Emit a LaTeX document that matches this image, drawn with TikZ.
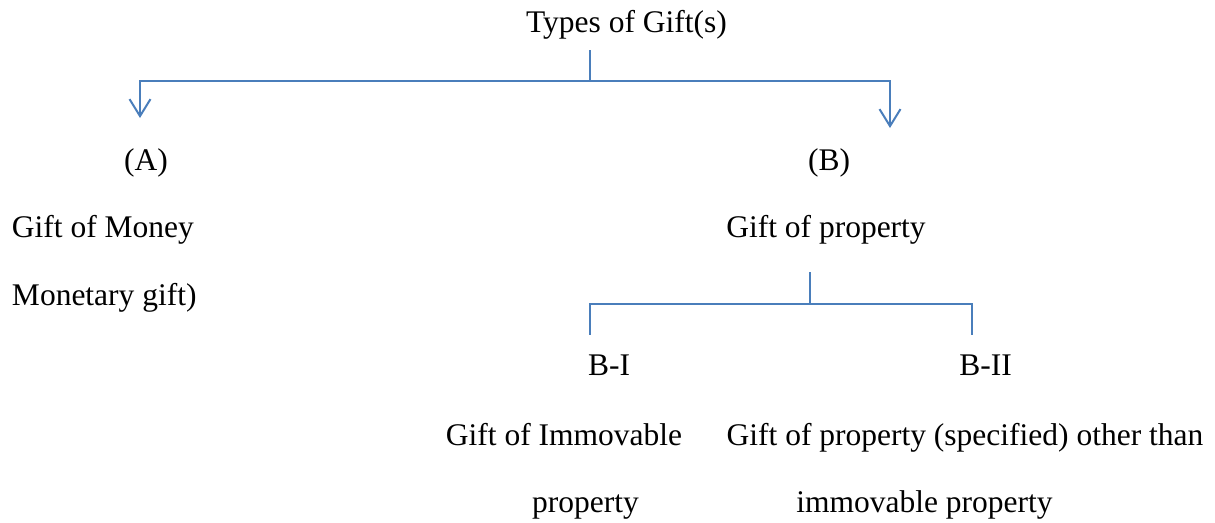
\documentclass[tikz,border=0pt]{standalone}
\usepackage{fontspec}
\setmainfont{Liberation Serif}
\usetikzlibrary{arrows.meta}
\definecolor{linkblue}{RGB}{74,126,187}
\begin{document}
\begin{tikzpicture}[x=1pt,y=-1pt,
  lbl/.style={inner sep=0pt,outer sep=0pt,font=\fontsize{31.5}{38}\selectfont},
  link/.style={draw=linkblue,line width=2pt},
  arr/.style={link,-{Straight Barb[length=17pt,width=21pt]}}]
\useasboundingbox (0,0) rectangle (1215,522);
% texts
\node[lbl,anchor=base] (types) at (626.5,32) {Types of Gift(s)};
\node[lbl,anchor=base] (A) at (146,170) {(A)};
\node[lbl,anchor=base] (B) at (829,170) {(B)};
\node[lbl,anchor=base west] (money) at (12,237) {Gift of Money};
\node[lbl,anchor=base west] (monetary) at (12,305) {Monetary gift)};
\node[lbl,anchor=base] (prop) at (826,237) {Gift of property};
\node[lbl,anchor=base] (BI) at (609,375) {B-I};
\node[lbl,anchor=base] (BII) at (985.5,375) {B-II};
\node[lbl,anchor=base] (immov) at (564,445) {Gift of Immovable};
\node[lbl,anchor=base] (other) at (965,445) {Gift of property (specified) other than};
\node[lbl,anchor=base] (immovb) at (585.5,512) {property};
\node[lbl,anchor=base] (otherb) at (924.5,512) {immovable property};
% connector points
\coordinate (t0) at (590,50);
\coordinate (j0) at (590,81);
\coordinate (tipA) at (140,118);
\coordinate (tipB) at (890,128);
\coordinate (p0) at (810,272);
\coordinate (j1) at (810,304);
\coordinate (eBI) at (590,335);
\coordinate (eBII) at (972,335);
% connectors
\draw[link] (t0) -- (j0);
\draw[arr] (j0) -| (tipA);
\draw[arr] (j0) -| (tipB);
\draw[link] (p0) -- (j1);
\draw[link] (j1) -| (eBI);
\draw[link] (j1) -| (eBII);
\end{tikzpicture}
\end{document}
